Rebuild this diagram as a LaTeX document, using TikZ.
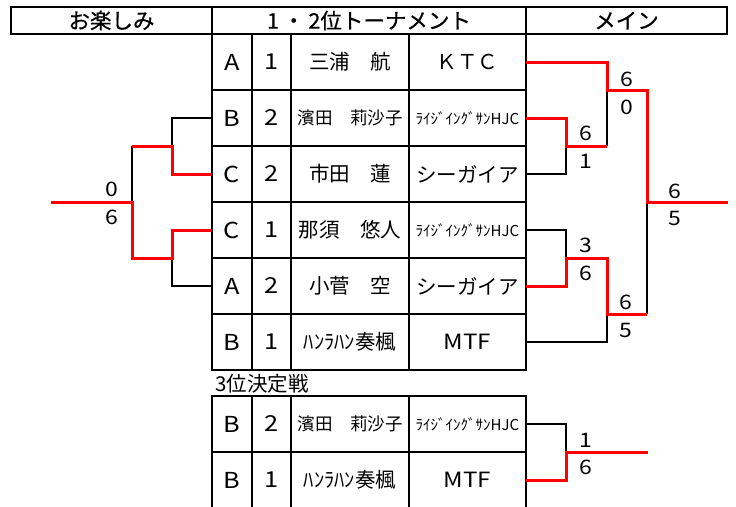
\documentclass[tikz,border=0pt]{standalone}
\usepackage{fontspec}
\setmainfont{Noto Sans CJK JP}
\newfontfamily\widefont[FakeStretch=1.15]{Noto Sans CJK JP}
\newfontfamily\hdrfont[FakeBold=0.6]{Noto Sans CJK JP}
\begin{document}
\begin{tikzpicture}[x=1pt,y=-1pt,
 cell/.style={draw, line width=1.8pt, inner sep=0pt, outer sep=0pt, minimum height=56pt, font=\fontsize{20.5}{24}\selectfont},
 hdr/.style={draw, line width=1.8pt, inner sep=0pt, outer sep=0pt, minimum height=27pt, font=\hdrfont\fontsize{21.5}{24}\selectfont},
 ltr/.style={cell, minimum width=40pt, font=\widefont\fontsize{22}{24}\selectfont},
 num/.style={cell, minimum width=39pt, font=\widefont\fontsize{22}{24}\selectfont},
 nm/.style={cell, minimum width=118pt},
 tm/.style={cell, minimum width=117pt},
 sm/.style={font=\fontsize{17.5}{20}\selectfont},
 xs/.style={font=\fontsize{15}{18}\selectfont},
 wd/.style={font=\widefont\fontsize{21}{24}\selectfont},
 wire/.style={line width=1.5pt, black},
 win/.style={line width=3pt, red},
 score/.style={font=\widefont\fontsize{20}{22}\selectfont, inner sep=0pt},
 lbl/.style={font=\fontsize{20.5}{24}\selectfont, inner sep=0pt}
]
\useasboundingbox (0,0) rectangle (736,506);

% header
\node[hdr, minimum width=201pt] (hl) at (111.5,20.5) {お楽しみ};
\node[hdr, minimum width=314pt] (hm) at (369,20.5) {1\kern4pt・\kern4pt2位トーナメント};
\node[hdr, minimum width=201pt] (hr) at (626.5,20.5) {メイン};

% main table
\node[ltr] (l1) at (232,62) {A};
\node[num] (n1) at (271.5,62) {1};
\node[nm] (p1) at (350,62) {三浦　航};
\node[tm] (t1) at (467.5,62) {ＫＴＣ};

\node[ltr] (l2) at (232,118) {B};
\node[num] (n2) at (271.5,118) {2};
\node[nm, sm] (p2) at (350,118) {濱田　莉沙子};
\node[tm, xs] (t2) at (467.5,118) {ﾗｲｼﾞｲﾝｸﾞｻﾝHJC};

\node[ltr] (l3) at (232,174) {C};
\node[num] (n3) at (271.5,174) {2};
\node[nm] (p3) at (350,174) {市田　蓮};
\node[tm] (t3) at (467.5,174) {シーガイア};

\node[ltr] (l4) at (232,230) {C};
\node[num] (n4) at (271.5,230) {1};
\node[nm] (p4) at (350,230) {那須　悠人};
\node[tm, xs] (t4) at (467.5,230) {ﾗｲｼﾞｲﾝｸﾞｻﾝHJC};

\node[ltr] (l5) at (232,286) {A};
\node[num] (n5) at (271.5,286) {2};
\node[nm] (p5) at (350,286) {小菅　空};
\node[tm] (t5) at (467.5,286) {シーガイア};

\node[ltr] (l6) at (232,342) {B};
\node[num] (n6) at (271.5,342) {1};
\node[nm] (p6) at (350,342) {ﾊﾝﾗﾊﾝ奏楓};
\node[tm, wd] (t6) at (467.5,342) {MTF};

% third place
\node[lbl, anchor=west] (third) at (215,384) {3位決定戦};
\node[ltr] (l7) at (232,424) {B};
\node[num] (n7) at (271.5,424) {2};
\node[nm, sm] (p7) at (350,424) {濱田　莉沙子};
\node[tm, xs] (t7) at (467.5,424) {ﾗｲｼﾞｲﾝｸﾞｻﾝHJC};

\node[ltr] (l8) at (232,480) {B};
\node[num] (n8) at (271.5,480) {1};
\node[nm] (p8) at (350,480) {ﾊﾝﾗﾊﾝ奏楓};
\node[tm, wd] (t8) at (467.5,480) {MTF};

% junctions
\coordinate (ka) at (172,146);
\coordinate (kb) at (172,258);
\coordinate (kc) at (132,202);
\coordinate (lfin) at (51,202);
\coordinate (ja) at (566,146);
\coordinate (jb) at (607,90);
\coordinate (jc) at (566,258);
\coordinate (jd) at (607,314);
\coordinate (je) at (647,202);
\coordinate (fin) at (728,202);
\coordinate (jt) at (566,452);
\coordinate (fint) at (648,452);

% left bracket
\draw[wire] (l2.west) -| (ka);
\draw[wire] (ka -| kc) -- (kc);
\draw[wire] (kb) |- (l5.west);
\draw[win] (l3.west) -| (ka) -- (ka -| kc);
\draw[win] (lfin) -- (kc) -- (kc |- kb) -- (kb) |- (l4.west);

% right bracket
\draw[wire] (t3.east) -| (ja);
\draw[wire] (ja -| jb) -- (jb);
\draw[wire] (t4.east) -| (jc);
\draw[wire] (t6.east) -| (jd);
\draw[wire] (jd -| je) -- (je);
\draw[win] (t2.east) -| (ja) -- (ja -| jb);
\draw[win] (t1.east) -| (jb) -- (jb -| je) -- (je) -- (fin);
\draw[win] (t5.east) -| (jc) -- (jc -| jd) -- (jd) -- (jd -| je);

% third bracket
\draw[wire] (t7.east) -| (jt);
\draw[win] (t8.east) -| (jt) -- (fint);

% scores
\node[score] (sl1) at (112,189) {0};
\node[score] (sl2) at (112,217) {6};
\node[score] (sa1) at (627,79) {6};
\node[score] (sa2) at (627,107) {0};
\node[score] (sb1) at (586,133) {6};
\node[score] (sb2) at (586,161) {1};
\node[score] (sc1) at (675,191) {6};
\node[score] (sc2) at (675,218) {5};
\node[score] (sd1) at (586,245) {3};
\node[score] (sd2) at (586,273) {6};
\node[score] (se1) at (626,302) {6};
\node[score] (se2) at (626,330) {5};
\node[score] (sf1) at (586,440) {1};
\node[score] (sf2) at (586,467) {6};
\end{tikzpicture}
\end{document}
